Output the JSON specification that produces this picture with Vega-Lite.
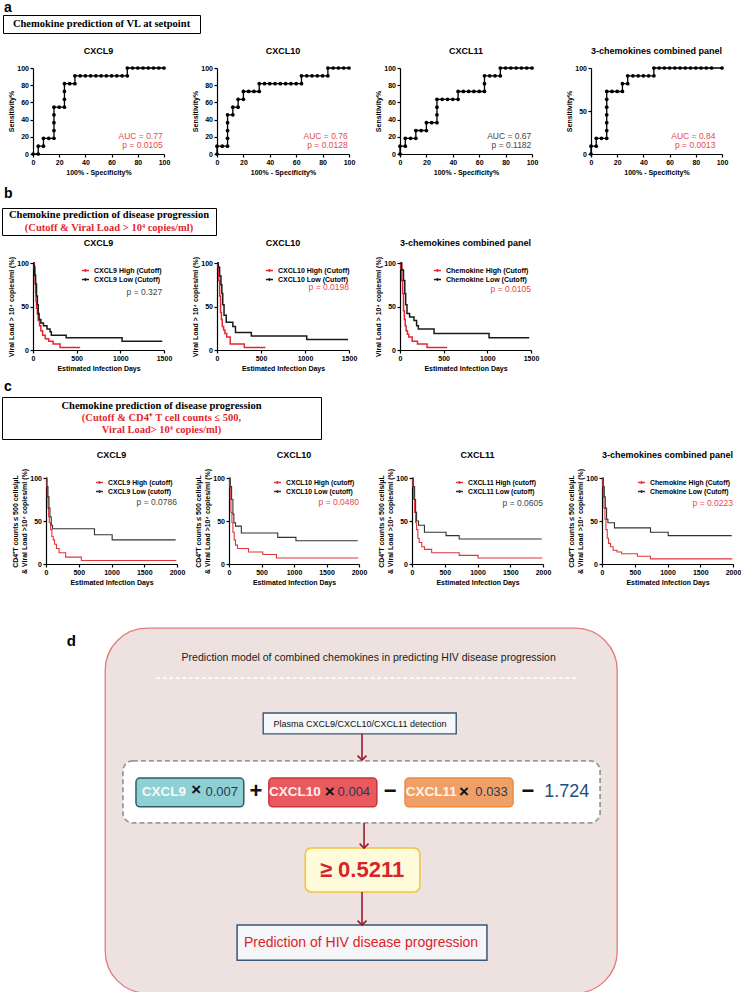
{
"$schema": "https://vega.github.io/schema/vega-lite/v6.json",
"padding": 0,
"background": "white",
"spacing": 0,
"bounds": "flush",
"resolve": {"scale": {"color": "independent"}, "legend": {"color": "independent"}},
"config": {
  "font": "Liberation Sans",
  "view": {"stroke": null},
  "axis": {"grid": false, "domainColor": "#000", "tickColor": "#000", "labelColor": "#000", "titleColor": "#000", "labelFontSize": 7, "labelFontWeight": "bold", "titleFontSize": 7, "titleFontWeight": "bold", "tickSize": 3, "labelPadding": 1.5, "titlePadding": 2.5, "domainWidth": 1.2, "tickWidth": 1.2, "labelFlush": false, "labelOverlap": false, "format": "d", "tickCount": 30},
  "title": {"fontSize": 9, "fontWeight": "bold", "offset": 8, "color": "#000"},
  "legend": {"labelFontSize": 7, "labelFontWeight": "bold", "labelColor": "#000", "symbolType": "M-1,0L1,0M0,-0.4L0,0.4", "symbolStrokeWidth": 1.4, "symbolSize": 50, "rowPadding": 0, "padding": 0, "labelOffset": 4}
},
"datasets": {
  "roc9": [{"x":0,"y":0},{"x":4,"y":0},{"x":4,"y":9.1},{"x":8,"y":9.1},{"x":8,"y":18.2},{"x":12,"y":18.2},{"x":16,"y":18.2},{"x":16,"y":27.3},{"x":16,"y":36.4},{"x":16,"y":45.5},{"x":16,"y":54.5},{"x":20,"y":54.5},{"x":24,"y":54.5},{"x":24,"y":63.6},{"x":24,"y":72.7},{"x":24,"y":81.8},{"x":28,"y":81.8},{"x":32,"y":81.8},{"x":32,"y":90.9},{"x":36,"y":90.9},{"x":40,"y":90.9},{"x":44,"y":90.9},{"x":48,"y":90.9},{"x":52,"y":90.9},{"x":56,"y":90.9},{"x":60,"y":90.9},{"x":64,"y":90.9},{"x":68,"y":90.9},{"x":72,"y":90.9},{"x":72,"y":100},{"x":76,"y":100},{"x":80,"y":100},{"x":84,"y":100},{"x":88,"y":100},{"x":92,"y":100},{"x":96,"y":100},{"x":100,"y":100}],
  "roc10": [{"x":0,"y":0},{"x":0,"y":9.1},{"x":4,"y":9.1},{"x":8,"y":9.1},{"x":8,"y":18.2},{"x":8,"y":27.3},{"x":8,"y":36.4},{"x":8,"y":45.5},{"x":12,"y":45.5},{"x":12,"y":54.5},{"x":16,"y":54.5},{"x":16,"y":63.6},{"x":20,"y":63.6},{"x":20,"y":72.7},{"x":24,"y":72.7},{"x":28,"y":72.7},{"x":32,"y":72.7},{"x":32,"y":81.8},{"x":36,"y":81.8},{"x":40,"y":81.8},{"x":44,"y":81.8},{"x":48,"y":81.8},{"x":52,"y":81.8},{"x":56,"y":81.8},{"x":60,"y":81.8},{"x":64,"y":81.8},{"x":64,"y":90.9},{"x":68,"y":90.9},{"x":72,"y":90.9},{"x":76,"y":90.9},{"x":80,"y":90.9},{"x":84,"y":90.9},{"x":84,"y":100},{"x":88,"y":100},{"x":92,"y":100},{"x":96,"y":100},{"x":100,"y":100}],
  "roc11": [{"x":0,"y":0},{"x":0,"y":9.1},{"x":4,"y":9.1},{"x":4,"y":18.2},{"x":8,"y":18.2},{"x":12,"y":18.2},{"x":12,"y":27.3},{"x":16,"y":27.3},{"x":20,"y":27.3},{"x":20,"y":36.4},{"x":24,"y":36.4},{"x":28,"y":36.4},{"x":28,"y":45.5},{"x":28,"y":54.5},{"x":28,"y":63.6},{"x":32,"y":63.6},{"x":36,"y":63.6},{"x":40,"y":63.6},{"x":44,"y":63.6},{"x":44,"y":72.7},{"x":48,"y":72.7},{"x":52,"y":72.7},{"x":56,"y":72.7},{"x":60,"y":72.7},{"x":64,"y":72.7},{"x":64,"y":81.8},{"x":64,"y":90.9},{"x":68,"y":90.9},{"x":72,"y":90.9},{"x":76,"y":90.9},{"x":76,"y":100},{"x":80,"y":100},{"x":84,"y":100},{"x":88,"y":100},{"x":92,"y":100},{"x":96,"y":100},{"x":100,"y":100}],
  "roc3": [{"x":0,"y":0},{"x":0,"y":9.1},{"x":4,"y":9.1},{"x":4,"y":18.2},{"x":8,"y":18.2},{"x":12,"y":18.2},{"x":12,"y":27.3},{"x":12,"y":36.4},{"x":12,"y":45.5},{"x":12,"y":54.5},{"x":12,"y":63.6},{"x":12,"y":72.7},{"x":16,"y":72.7},{"x":20,"y":72.7},{"x":24,"y":72.7},{"x":24,"y":81.8},{"x":28,"y":81.8},{"x":28,"y":90.9},{"x":32,"y":90.9},{"x":36,"y":90.9},{"x":40,"y":90.9},{"x":44,"y":90.9},{"x":48,"y":90.9},{"x":48,"y":100},{"x":52,"y":100},{"x":56,"y":100},{"x":60,"y":100},{"x":64,"y":100},{"x":68,"y":100},{"x":72,"y":100},{"x":76,"y":100},{"x":80,"y":100},{"x":84,"y":100},{"x":88,"y":100},{"x":92,"y":100},{"x":100,"y":100}],
  "b9": [{"d":0,"s":100,"g":"High"},{"d":15,"s":93,"g":"High"},{"d":20,"s":86,"g":"High"},{"d":25,"s":76,"g":"High"},{"d":30,"s":66,"g":"High"},{"d":35,"s":56,"g":"High"},{"d":40,"s":48,"g":"High"},{"d":50,"s":41,"g":"High"},{"d":60,"s":34,"g":"High"},{"d":75,"s":28,"g":"High"},{"d":90,"s":22,"g":"High"},{"d":110,"s":17,"g":"High"},{"d":140,"s":13,"g":"High"},{"d":180,"s":10,"g":"High"},{"d":230,"s":7,"g":"High"},{"d":310,"s":3,"g":"High"},{"d":540,"s":3,"g":"High"},
         {"d":0,"s":100,"g":"Low"},{"d":10,"s":96,"g":"Low"},{"d":20,"s":86,"g":"Low"},{"d":30,"s":76,"g":"Low"},{"d":40,"s":62,"g":"Low"},{"d":50,"s":52,"g":"Low"},{"d":60,"s":42,"g":"Low"},{"d":70,"s":35,"g":"Low"},{"d":90,"s":31,"g":"Low"},{"d":120,"s":28,"g":"Low"},{"d":160,"s":24,"g":"Low"},{"d":195,"s":21,"g":"Low"},{"d":210,"s":17,"g":"Low"},{"d":380,"s":14,"g":"Low"},{"d":1020,"s":10,"g":"Low"},{"d":1480,"s":10,"g":"Low"}],
  "b10": [{"d":0,"s":100,"g":"High"},{"d":10,"s":95,"g":"High"},{"d":20,"s":80,"g":"High"},{"d":30,"s":62,"g":"High"},{"d":40,"s":43,"g":"High"},{"d":50,"s":35,"g":"High"},{"d":60,"s":27,"g":"High"},{"d":75,"s":23,"g":"High"},{"d":90,"s":19,"g":"High"},{"d":110,"s":15,"g":"High"},{"d":150,"s":7,"g":"High"},{"d":310,"s":3,"g":"High"},{"d":550,"s":3,"g":"High"},
          {"d":0,"s":100,"g":"Low"},{"d":15,"s":95,"g":"Low"},{"d":30,"s":85,"g":"Low"},{"d":45,"s":75,"g":"Low"},{"d":55,"s":65,"g":"Low"},{"d":65,"s":52,"g":"Low"},{"d":80,"s":40,"g":"Low"},{"d":105,"s":32,"g":"Low"},{"d":180,"s":27,"g":"Low"},{"d":210,"s":20,"g":"Low"},{"d":390,"s":16,"g":"Low"},{"d":1020,"s":12,"g":"Low"},{"d":1490,"s":12,"g":"Low"}],
  "b3": [{"d":0,"s":100,"g":"High"},{"d":10,"s":93,"g":"High"},{"d":20,"s":80,"g":"High"},{"d":30,"s":65,"g":"High"},{"d":40,"s":45,"g":"High"},{"d":50,"s":35,"g":"High"},{"d":60,"s":28,"g":"High"},{"d":70,"s":22,"g":"High"},{"d":85,"s":18,"g":"High"},{"d":100,"s":15,"g":"High"},{"d":140,"s":10,"g":"High"},{"d":200,"s":7,"g":"High"},{"d":310,"s":3,"g":"High"},{"d":540,"s":3,"g":"High"},
         {"d":0,"s":100,"g":"Low"},{"d":20,"s":92,"g":"Low"},{"d":40,"s":80,"g":"Low"},{"d":55,"s":65,"g":"Low"},{"d":65,"s":52,"g":"Low"},{"d":80,"s":42,"g":"Low"},{"d":110,"s":38,"g":"Low"},{"d":160,"s":34,"g":"Low"},{"d":190,"s":28,"g":"Low"},{"d":210,"s":24,"g":"Low"},{"d":390,"s":19,"g":"Low"},{"d":1020,"s":14,"g":"Low"},{"d":1480,"s":14,"g":"Low"}],
  "c9": [{"d":0,"s":100,"g":"High"},{"d":10,"s":90,"g":"High"},{"d":20,"s":78,"g":"High"},{"d":30,"s":65,"g":"High"},{"d":40,"s":55,"g":"High"},{"d":50,"s":48,"g":"High"},{"d":70,"s":40,"g":"High"},{"d":90,"s":32,"g":"High"},{"d":110,"s":28,"g":"High"},{"d":130,"s":23,"g":"High"},{"d":160,"s":18,"g":"High"},{"d":200,"s":13,"g":"High"},{"d":300,"s":8,"g":"High"},{"d":540,"s":4,"g":"High"},{"d":1990,"s":4,"g":"High"},
         {"d":0,"s":100,"g":"Low"},{"d":15,"s":90,"g":"Low"},{"d":30,"s":78,"g":"Low"},{"d":45,"s":65,"g":"Low"},{"d":60,"s":55,"g":"Low"},{"d":80,"s":45,"g":"Low"},{"d":100,"s":41,"g":"Low"},{"d":740,"s":34,"g":"Low"},{"d":1010,"s":28,"g":"Low"},{"d":1980,"s":28,"g":"Low"}],
  "c10": [{"d":0,"s":100,"g":"High"},{"d":10,"s":90,"g":"High"},{"d":20,"s":75,"g":"High"},{"d":30,"s":60,"g":"High"},{"d":45,"s":48,"g":"High"},{"d":60,"s":37,"g":"High"},{"d":80,"s":28,"g":"High"},{"d":100,"s":22,"g":"High"},{"d":130,"s":18,"g":"High"},{"d":300,"s":14,"g":"High"},{"d":520,"s":11,"g":"High"},{"d":730,"s":7,"g":"High"},{"d":1990,"s":7,"g":"High"},
          {"d":0,"s":100,"g":"Low"},{"d":20,"s":90,"g":"Low"},{"d":40,"s":75,"g":"Low"},{"d":60,"s":58,"g":"Low"},{"d":75,"s":48,"g":"Low"},{"d":100,"s":44,"g":"Low"},{"d":190,"s":36,"g":"Low"},{"d":750,"s":31,"g":"Low"},{"d":1030,"s":27,"g":"Low"},{"d":1980,"s":27,"g":"Low"}],
  "c11": [{"d":0,"s":100,"g":"High"},{"d":10,"s":90,"g":"High"},{"d":25,"s":75,"g":"High"},{"d":40,"s":60,"g":"High"},{"d":55,"s":48,"g":"High"},{"d":70,"s":40,"g":"High"},{"d":90,"s":30,"g":"High"},{"d":110,"s":25,"g":"High"},{"d":150,"s":20,"g":"High"},{"d":190,"s":17,"g":"High"},{"d":300,"s":13,"g":"High"},{"d":720,"s":10,"g":"High"},{"d":1010,"s":7,"g":"High"},{"d":1990,"s":7,"g":"High"},
          {"d":0,"s":100,"g":"Low"},{"d":20,"s":90,"g":"Low"},{"d":40,"s":75,"g":"Low"},{"d":55,"s":60,"g":"Low"},{"d":70,"s":50,"g":"Low"},{"d":100,"s":45,"g":"Low"},{"d":190,"s":37,"g":"Low"},{"d":520,"s":33,"g":"Low"},{"d":720,"s":29,"g":"Low"},{"d":1980,"s":29,"g":"Low"}],
  "c3": [{"d":0,"s":100,"g":"High"},{"d":10,"s":90,"g":"High"},{"d":20,"s":78,"g":"High"},{"d":30,"s":65,"g":"High"},{"d":45,"s":52,"g":"High"},{"d":60,"s":40,"g":"High"},{"d":80,"s":30,"g":"High"},{"d":100,"s":24,"g":"High"},{"d":130,"s":20,"g":"High"},{"d":170,"s":16,"g":"High"},{"d":230,"s":14,"g":"High"},{"d":300,"s":12,"g":"High"},{"d":540,"s":9,"g":"High"},{"d":740,"s":6,"g":"High"},{"d":1990,"s":6,"g":"High"},
         {"d":0,"s":100,"g":"Low"},{"d":20,"s":90,"g":"Low"},{"d":35,"s":78,"g":"Low"},{"d":50,"s":65,"g":"Low"},{"d":70,"s":52,"g":"Low"},{"d":90,"s":48,"g":"Low"},{"d":190,"s":42,"g":"Low"},{"d":740,"s":37,"g":"Low"},{"d":1010,"s":33,"g":"Low"},{"d":1980,"s":33,"g":"Low"}]
},
"vconcat": [
  {"width": 1, "height": 13, "data": {"values": []}, "mark": "point"},
  {"hconcat": [
    {"width": 3, "height": 1, "data": {"values": []}, "mark": "point"},
    {"width": 197, "height": 18, "view": {"stroke": "#000", "strokeWidth": 1},
     "title": {"text": "a", "anchor": "start", "frame": "group", "fontSize": 14, "fontWeight": "bold", "offset": 0, "dx": 1},
     "data": {"values": [{"t": "Chemokine prediction of VL at setpoint"}]},
     "mark": {"type": "text", "font": "Liberation Serif", "fontWeight": "bold", "fontSize": 10.5, "color": "#000"},
     "encoding": {"text": {"field": "t"}}}
  ], "spacing": 0, "bounds": "flush"},
  {"width": 1, "height": 53, "data": {"values": []}, "mark": "point"},
  {"hconcat": [
    {"width": 33, "height": 1, "data": {"values": []}, "mark": "point"},
    {"width": 131, "height": 86, "title": "CXCL9",
     "layer": [
      {"data": {"name": "roc9"}, "mark": {"type": "line", "color": "#000", "strokeWidth": 1.3, "point": {"filled": true, "size": 14, "color": "#000"}},
       "encoding": {"x": {"field": "x", "type": "quantitative", "scale": {"domain": [0, 100], "nice": false}, "axis": {"values": [0, 20, 40, 60, 80, 100], "tickCount": 30, "labelOverlap": false, "title": "100% - Specificity%"}},
                    "y": {"field": "y", "type": "quantitative", "scale": {"domain": [0, 100], "nice": false}, "axis": {"values": [0, 20, 40, 60, 80, 100], "tickCount": 30, "labelOverlap": false, "title": "Sensitivity%"}},
                    "order": [{"field": "x"}, {"field": "y"}]}},
      {"data": {"values": [{}]}, "mark": {"type": "text", "text": ["AUC = 0.77", "p = 0.0105"], "align": "right", "baseline": "top", "fontSize": 8.5, "lineHeight": 9.5, "color": "#e8474e"},
       "encoding": {"x": {"datum": 99}, "y": {"datum": 26}}}
     ]},
    {"width": 53, "height": 1, "data": {"values": []}, "mark": "point"},
    {"width": 132, "height": 86, "title": "CXCL10",
     "layer": [
      {"data": {"name": "roc10"}, "mark": {"type": "line", "color": "#000", "strokeWidth": 1.3, "point": {"filled": true, "size": 14, "color": "#000"}},
       "encoding": {"x": {"field": "x", "type": "quantitative", "scale": {"domain": [0, 100], "nice": false}, "axis": {"values": [0, 20, 40, 60, 80, 100], "tickCount": 30, "labelOverlap": false, "title": "100% - Specificity%"}},
                    "y": {"field": "y", "type": "quantitative", "scale": {"domain": [0, 100], "nice": false}, "axis": {"values": [0, 20, 40, 60, 80, 100], "tickCount": 30, "labelOverlap": false, "title": "Sensitivity%"}},
                    "order": [{"field": "x"}, {"field": "y"}]}},
      {"data": {"values": [{}]}, "mark": {"type": "text", "text": ["AUC = 0.76", "p = 0.0128"], "align": "right", "baseline": "top", "fontSize": 8.5, "lineHeight": 9.5, "color": "#e8474e"},
       "encoding": {"x": {"datum": 99}, "y": {"datum": 26}}}
     ]},
    {"width": 51, "height": 1, "data": {"values": []}, "mark": "point"},
    {"width": 132, "height": 86, "title": "CXCL11",
     "layer": [
      {"data": {"name": "roc11"}, "mark": {"type": "line", "color": "#000", "strokeWidth": 1.3, "point": {"filled": true, "size": 14, "color": "#000"}},
       "encoding": {"x": {"field": "x", "type": "quantitative", "scale": {"domain": [0, 100], "nice": false}, "axis": {"values": [0, 20, 40, 60, 80, 100], "tickCount": 30, "labelOverlap": false, "title": "100% - Specificity%"}},
                    "y": {"field": "y", "type": "quantitative", "scale": {"domain": [0, 100], "nice": false}, "axis": {"values": [0, 20, 40, 60, 80, 100], "tickCount": 30, "labelOverlap": false, "title": "Sensitivity%"}},
                    "order": [{"field": "x"}, {"field": "y"}]}},
      {"data": {"values": [{}]}, "mark": {"type": "text", "text": ["AUC = 0.67", "p = 0.1182"], "align": "right", "baseline": "top", "fontSize": 8.5, "lineHeight": 9.5, "color": "#444"},
       "encoding": {"x": {"datum": 99.5}, "y": {"datum": 26}}}
     ]},
    {"width": 59, "height": 1, "data": {"values": []}, "mark": "point"},
    {"width": 131, "height": 86, "title": "3-chemokines combined panel",
     "layer": [
      {"data": {"name": "roc3"}, "mark": {"type": "line", "color": "#000", "strokeWidth": 1.3, "point": {"filled": true, "size": 14, "color": "#000"}},
       "encoding": {"x": {"field": "x", "type": "quantitative", "scale": {"domain": [0, 100], "nice": false}, "axis": {"values": [0, 20, 40, 60, 80, 100], "tickCount": 30, "labelOverlap": false, "title": "100% - Specificity%"}},
                    "y": {"field": "y", "type": "quantitative", "scale": {"domain": [0, 100], "nice": false}, "axis": {"values": [0, 50, 100], "tickCount": 30, "labelOverlap": false, "title": "Sensitivity%"}},
                    "order": [{"field": "x"}, {"field": "y"}]}},
      {"data": {"values": [{}]}, "mark": {"type": "text", "text": ["AUC = 0.84", "p = 0.0013"], "align": "right", "baseline": "top", "fontSize": 8.5, "lineHeight": 9.5, "color": "#e8474e"},
       "encoding": {"x": {"datum": 95}, "y": {"datum": 26}}}
     ]}
  ], "spacing": 0, "bounds": "flush"},
  {"width": 1, "height": 140, "data": {"values": []}, "mark": "point"},
  {"hconcat": [
    {"width": 2, "height": 1, "data": {"values": []}, "mark": "point"},
    {"width": 214, "height": 27, "view": {"stroke": "#000", "strokeWidth": 1},
     "title": {"text": "b", "anchor": "start", "frame": "group", "fontSize": 14, "fontWeight": "bold", "offset": 7, "dx": 2},
     "data": {"values": [{"line": 1, "t": "Chemokine prediction of disease progression"}, {"line": 2, "t": "(Cutoff & Viral Load > 10⁴ copies/ml)"}]},
     "mark": {"type": "text", "font": "Liberation Serif", "fontWeight": "bold", "fontSize": 10.5},
     "encoding": {"text": {"field": "t"},
                  "y": {"field": "line", "type": "ordinal", "axis": null, "scale": {"type": "point", "padding": 0.5}},
                  "color": {"field": "line", "type": "nominal", "scale": {"domain": [1, 2, 3], "range": ["#000", "#e4262c", "#e4262c"]}, "legend": null}}}
  ], "spacing": 0, "bounds": "flush", "resolve": {"scale": {"color": "independent"}, "legend": {"color": "independent"}}},
  {"width": 1, "height": 55, "data": {"values": []}, "mark": "point"},
  {"hconcat": [
    {"width": 33, "height": 1, "data": {"values": []}, "mark": "point"},
    {"width": 131, "height": 87, "title": "CXCL9",
     "layer": [
      {"data": {"name": "b9"}, "mark": {"type": "line", "interpolate": "step-after", "strokeWidth": 1.5},
       "encoding": {"x": {"field": "d", "type": "quantitative", "scale": {"domain": [0, 1500], "nice": false}, "axis": {"values": [0, 500, 1000, 1500], "tickCount": 30, "labelOverlap": false, "title": "Estimated Infection Days"}},
                    "y": {"field": "s", "type": "quantitative", "scale": {"domain": [0, 100], "nice": false}, "axis": {"values": [0, 50, 100], "tickCount": 30, "labelOverlap": false, "title": "Viral Load > 10⁴ copies/ml (%)"}},
                    "color": {"field": "g", "type": "nominal", "scale": {"domain": ["High", "Low"], "range": ["#e8262f", "#1a1a1a"]}, "legend": {"title": null, "orient": "none", "legendX": 48, "legendY": 3, "labelExpr": "'CXCL9 ' + datum.label + ' (Cutoff)'"}}}},
      {"data": {"values": [{}]}, "mark": {"type": "text", "text": "p = 0.327", "align": "right", "fontSize": 8.5, "color": "#444"},
       "encoding": {"x": {"datum": 1480}, "y": {"datum": 67}}}
     ]},
    {"width": 53, "height": 1, "data": {"values": []}, "mark": "point"},
    {"width": 132, "height": 87, "title": "CXCL10",
     "layer": [
      {"data": {"name": "b10"}, "mark": {"type": "line", "interpolate": "step-after", "strokeWidth": 1.5},
       "encoding": {"x": {"field": "d", "type": "quantitative", "scale": {"domain": [0, 1500], "nice": false}, "axis": {"values": [0, 500, 1000, 1500], "tickCount": 30, "labelOverlap": false, "title": "Estimated Infection Days"}},
                    "y": {"field": "s", "type": "quantitative", "scale": {"domain": [0, 100], "nice": false}, "axis": {"values": [0, 50, 100], "tickCount": 30, "labelOverlap": false, "title": "Viral Load > 10⁴ copies/ml (%)"}},
                    "color": {"field": "g", "type": "nominal", "scale": {"domain": ["High", "Low"], "range": ["#e8262f", "#1a1a1a"]}, "legend": {"title": null, "orient": "none", "legendX": 48, "legendY": 3, "labelExpr": "'CXCL10 ' + datum.label + ' (Cutoff)'"}}}},
      {"data": {"values": [{}]}, "mark": {"type": "text", "text": "p = 0.0198", "align": "right", "fontSize": 8.5, "color": "#e8474e"},
       "encoding": {"x": {"datum": 1500}, "y": {"datum": 72}}}
     ]},
    {"width": 51, "height": 1, "data": {"values": []}, "mark": "point"},
    {"width": 131, "height": 87, "title": "3-chemokines combined panel",
     "layer": [
      {"data": {"name": "b3"}, "mark": {"type": "line", "interpolate": "step-after", "strokeWidth": 1.5},
       "encoding": {"x": {"field": "d", "type": "quantitative", "scale": {"domain": [0, 1500], "nice": false}, "axis": {"values": [0, 500, 1000, 1500], "tickCount": 30, "labelOverlap": false, "title": "Estimated Infection Days"}},
                    "y": {"field": "s", "type": "quantitative", "scale": {"domain": [0, 100], "nice": false}, "axis": {"values": [0, 50, 100], "tickCount": 30, "labelOverlap": false, "title": "Viral Load > 10⁴ copies/ml (%)"}},
                    "color": {"field": "g", "type": "nominal", "scale": {"domain": ["High", "Low"], "range": ["#e8262f", "#1a1a1a"]}, "legend": {"title": null, "orient": "none", "legendX": 33, "legendY": 3, "labelExpr": "'Chemokine ' + datum.label + ' (Cutoff)'"}}}},
      {"data": {"values": [{}]}, "mark": {"type": "text", "text": "p = 0.0105", "align": "right", "fontSize": 8.5, "color": "#e8474e"},
       "encoding": {"x": {"datum": 1500}, "y": {"datum": 70}}}
     ]}
  ], "spacing": 0, "bounds": "flush", "resolve": {"scale": {"color": "independent"}, "legend": {"color": "independent"}}},
  {"width": 1, "height": 134, "data": {"values": []}, "mark": "point"},
  {"hconcat": [
    {"width": 2, "height": 1, "data": {"values": []}, "mark": "point"},
    {"width": 319, "height": 42, "view": {"stroke": "#000", "strokeWidth": 1},
     "title": {"text": "c", "anchor": "start", "frame": "group", "fontSize": 14, "fontWeight": "bold", "offset": 3, "dx": 2},
     "data": {"values": [{"line": 1, "t": "Chemokine prediction of disease progression"}, {"line": 2, "t": "(Cutoff & CD4⁺ T cell counts ≤ 500,"}, {"line": 3, "t": "Viral Load> 10⁴ copies/ml)"}]},
     "mark": {"type": "text", "font": "Liberation Serif", "fontWeight": "bold", "fontSize": 10.5},
     "encoding": {"text": {"field": "t"},
                  "y": {"field": "line", "type": "ordinal", "axis": null, "scale": {"type": "point", "padding": 0.75}},
                  "color": {"field": "line", "type": "nominal", "scale": {"domain": [1, 2, 3], "range": ["#000", "#e4262c", "#e4262c"]}, "legend": null}}}
  ], "spacing": 0, "bounds": "flush", "resolve": {"scale": {"color": "independent"}, "legend": {"color": "independent"}}},
  {"width": 1, "height": 81, "data": {"values": []}, "mark": "point"},
  {"hconcat": [
    {"width": 46, "height": 1, "data": {"values": []}, "mark": "point"},
    {"width": 131, "height": 86, "title": "CXCL9",
     "layer": [
      {"data": {"name": "c9"}, "mark": {"type": "line", "interpolate": "step-after", "strokeWidth": 1.1},
       "encoding": {"x": {"field": "d", "type": "quantitative", "scale": {"domain": [0, 2000], "nice": false}, "axis": {"values": [0, 500, 1000, 1500, 2000], "tickCount": 30, "labelOverlap": false, "title": "Estimated Infection Days"}},
                    "y": {"field": "s", "type": "quantitative", "scale": {"domain": [0, 100], "nice": false}, "axis": {"values": [0, 50, 100], "tickCount": 30, "labelOverlap": false, "title": ["CD4⁺T counts ≤ 500 cells/μL", "& Viral Load >10⁴ copies/ml (%)"]}},
                    "color": {"field": "g", "type": "nominal", "scale": {"domain": ["High", "Low"], "range": ["#e0353d", "#333"]}, "legend": {"title": null, "orient": "none", "legendX": 49, "legendY": 0, "labelFontSize": 6.8, "labelExpr": "'CXCL9 ' + datum.label + ' (cutoff)'"}}}},
      {"data": {"values": [{}]}, "mark": {"type": "text", "text": "p = 0.0786", "align": "right", "fontSize": 8.5, "color": "#444"},
       "encoding": {"x": {"datum": 2000}, "y": {"datum": 72}}}
     ]},
    {"width": 52, "height": 1, "data": {"values": []}, "mark": "point"},
    {"width": 130, "height": 86, "title": "CXCL10",
     "layer": [
      {"data": {"name": "c10"}, "mark": {"type": "line", "interpolate": "step-after", "strokeWidth": 1.1},
       "encoding": {"x": {"field": "d", "type": "quantitative", "scale": {"domain": [0, 2000], "nice": false}, "axis": {"values": [0, 500, 1000, 1500, 2000], "tickCount": 30, "labelOverlap": false, "title": "Estimated Infection Days"}},
                    "y": {"field": "s", "type": "quantitative", "scale": {"domain": [0, 100], "nice": false}, "axis": {"values": [0, 50, 100], "tickCount": 30, "labelOverlap": false, "title": ["CD4⁺T counts ≤ 500 cells/μL", "& Viral Load >10⁴ copies/ml (%)"]}},
                    "color": {"field": "g", "type": "nominal", "scale": {"domain": ["High", "Low"], "range": ["#e0353d", "#333"]}, "legend": {"title": null, "orient": "none", "legendX": 44, "legendY": 0, "labelFontSize": 6.8, "labelExpr": "'CXCL10 ' + datum.label + ' (cutoff)'"}}}},
      {"data": {"values": [{}]}, "mark": {"type": "text", "text": "p = 0.0480", "align": "right", "fontSize": 8.5, "color": "#e8474e"},
       "encoding": {"x": {"datum": 2000}, "y": {"datum": 72}}}
     ]},
    {"width": 53, "height": 1, "data": {"values": []}, "mark": "point"},
    {"width": 131, "height": 86, "title": "CXCL11",
     "layer": [
      {"data": {"name": "c11"}, "mark": {"type": "line", "interpolate": "step-after", "strokeWidth": 1.1},
       "encoding": {"x": {"field": "d", "type": "quantitative", "scale": {"domain": [0, 2000], "nice": false}, "axis": {"values": [0, 500, 1000, 1500, 2000], "tickCount": 30, "labelOverlap": false, "title": "Estimated Infection Days"}},
                    "y": {"field": "s", "type": "quantitative", "scale": {"domain": [0, 100], "nice": false}, "axis": {"values": [0, 50, 100], "tickCount": 30, "labelOverlap": false, "title": ["CD4⁺T counts ≤ 500 cells/μL", "& Viral Load >10⁴ copies/ml (%)"]}},
                    "color": {"field": "g", "type": "nominal", "scale": {"domain": ["High", "Low"], "range": ["#e0353d", "#333"]}, "legend": {"title": null, "orient": "none", "legendX": 43, "legendY": 0, "labelFontSize": 6.8, "labelExpr": "'CXCL11 ' + datum.label + ' (cutoff)'"}}}},
      {"data": {"values": [{}]}, "mark": {"type": "text", "text": "p = 0.0605", "align": "right", "fontSize": 8.5, "color": "#444"},
       "encoding": {"x": {"datum": 2000}, "y": {"datum": 71}}}
     ]},
    {"width": 59, "height": 1, "data": {"values": []}, "mark": "point"},
    {"width": 131, "height": 86, "title": "3-chemokines combined panel",
     "layer": [
      {"data": {"name": "c3"}, "mark": {"type": "line", "interpolate": "step-after", "strokeWidth": 1.1},
       "encoding": {"x": {"field": "d", "type": "quantitative", "scale": {"domain": [0, 2000], "nice": false}, "axis": {"values": [0, 500, 1000, 1500, 2000], "tickCount": 30, "labelOverlap": false, "title": "Estimated Infection Days"}},
                    "y": {"field": "s", "type": "quantitative", "scale": {"domain": [0, 100], "nice": false}, "axis": {"values": [0, 50, 100], "tickCount": 30, "labelOverlap": false, "title": ["CD4⁺T counts ≤ 500 cells/μL", "& Viral Load >10⁴ copies/ml (%)"]}},
                    "color": {"field": "g", "type": "nominal", "scale": {"domain": ["High", "Low"], "range": ["#e0353d", "#333"]}, "legend": {"title": null, "orient": "none", "legendX": 35, "legendY": 0, "labelFontSize": 6.8, "labelExpr": "'Chemokine ' + datum.label + ' (Cutoff)'"}}}},
      {"data": {"values": [{}]}, "mark": {"type": "text", "text": "p = 0.0223", "align": "right", "fontSize": 8.5, "color": "#e8474e"},
       "encoding": {"x": {"datum": 2000}, "y": {"datum": 71}}}
     ]}
  ], "spacing": 0, "bounds": "flush", "resolve": {"scale": {"color": "independent"}, "legend": {"color": "independent"}}},
  {"width": 1, "height": 150, "data": {"values": []}, "mark": "point"},
  {"hconcat": [
    {"width": 105, "height": 1, "data": {"values": []}, "mark": "point"},
    {"width": 512, "height": 365,
     "view": {"fill": "#ede2e0", "stroke": "#e27b7b", "strokeWidth": 1.3, "cornerRadius": 42},
     "data": {"values": [{}]},
     "layer": [
      {"mark": {"type": "text", "text": "d", "fontSize": 15, "fontWeight": "bold", "font": "Liberation Sans", "color": "#000"},
       "encoding": {"x": {"datum": -6.6, "type": "quantitative", "scale": {"domain": [0, 100], "nice": false, "zero": false}, "axis": null}, "y": {"datum": 3.6, "type": "quantitative", "scale": {"domain": [0, 100], "nice": false, "zero": false, "reverse": true}, "axis": null}}},
      {"mark": {"type": "text", "text": "Prediction model of combined chemokines in predicting HIV disease progression", "fontSize": 10.5, "font": "Liberation Sans Narrow, Liberation Sans", "color": "#1a1a1a"},
       "encoding": {"x": {"datum": 51.5, "type": "quantitative", "scale": {"domain": [0, 100], "nice": false, "zero": false}, "axis": null}, "y": {"datum": 8.2, "type": "quantitative", "scale": {"domain": [0, 100], "nice": false, "zero": false, "reverse": true}, "axis": null}}},
      {"mark": {"type": "rule", "color": "#ffffff", "strokeWidth": 1.6, "strokeDash": [4, 2.5]},
       "encoding": {"x": {"datum": 10, "type": "quantitative", "scale": {"domain": [0, 100], "nice": false, "zero": false}, "axis": null}, "x2": {"datum": 92.2}, "y": {"datum": 13.7, "type": "quantitative", "scale": {"domain": [0, 100], "nice": false, "zero": false, "reverse": true}, "axis": null}}},
      {"mark": {"type": "rect", "fill": "#f4f6f8", "stroke": "#3a5777", "strokeWidth": 1.4},
       "encoding": {"x": {"datum": 30.9, "type": "quantitative", "scale": {"domain": [0, 100], "nice": false, "zero": false}, "axis": null}, "x2": {"datum": 68.6}, "y": {"datum": 23.3, "type": "quantitative", "scale": {"domain": [0, 100], "nice": false, "zero": false, "reverse": true}, "axis": null}, "y2": {"datum": 29.0}}},
      {"mark": {"type": "text", "text": "Plasma CXCL9/CXCL10/CXCL11 detection", "fontSize": 9, "font": "Liberation Sans Narrow, Liberation Sans", "color": "#111"},
       "encoding": {"x": {"datum": 49.8, "type": "quantitative", "scale": {"domain": [0, 100], "nice": false, "zero": false}, "axis": null}, "y": {"datum": 26.2, "type": "quantitative", "scale": {"domain": [0, 100], "nice": false, "zero": false, "reverse": true}, "axis": null}}},
      {"mark": {"type": "rect", "fill": "#ffffff", "stroke": "#9a9a9a", "strokeWidth": 1.8, "strokeDash": [5, 3], "cornerRadius": 10},
       "encoding": {"x": {"datum": 3.5, "type": "quantitative", "scale": {"domain": [0, 100], "nice": false, "zero": false}, "axis": null}, "x2": {"datum": 96.7}, "y": {"datum": 36.4, "type": "quantitative", "scale": {"domain": [0, 100], "nice": false, "zero": false, "reverse": true}, "axis": null}, "y2": {"datum": 53.4}}},
      {"mark": {"type": "rect", "fill": "#8fd0d2", "stroke": "#2e5b6b", "strokeWidth": 1.5, "cornerRadius": 4},
       "encoding": {"x": {"datum": 6.05, "type": "quantitative", "scale": {"domain": [0, 100], "nice": false, "zero": false}, "axis": null}, "x2": {"datum": 27.1}, "y": {"datum": 41.1, "type": "quantitative", "scale": {"domain": [0, 100], "nice": false, "zero": false, "reverse": true}, "axis": null}, "y2": {"datum": 49.0}}},
      {"mark": {"type": "rect", "fill": "#e85a5e", "stroke": "#c8343a", "strokeWidth": 1.5, "cornerRadius": 4},
       "encoding": {"x": {"datum": 32.0, "type": "quantitative", "scale": {"domain": [0, 100], "nice": false, "zero": false}, "axis": null}, "x2": {"datum": 53.1}, "y": {"datum": 41.1, "type": "quantitative", "scale": {"domain": [0, 100], "nice": false, "zero": false, "reverse": true}, "axis": null}, "y2": {"datum": 49.0}}},
      {"mark": {"type": "rect", "fill": "#f0a066", "stroke": "#e98a45", "strokeWidth": 1.5, "cornerRadius": 4},
       "encoding": {"x": {"datum": 58.6, "type": "quantitative", "scale": {"domain": [0, 100], "nice": false, "zero": false}, "axis": null}, "x2": {"datum": 79.7}, "y": {"datum": 41.1, "type": "quantitative", "scale": {"domain": [0, 100], "nice": false, "zero": false, "reverse": true}, "axis": null}, "y2": {"datum": 49.0}}},
      {"mark": {"type": "rect", "fill": "#fdfbda", "stroke": "#f2c43a", "strokeWidth": 1.5, "cornerRadius": 6},
       "encoding": {"x": {"datum": 39.1, "type": "quantitative", "scale": {"domain": [0, 100], "nice": false, "zero": false}, "axis": null}, "x2": {"datum": 61.5}, "y": {"datum": 60.3, "type": "quantitative", "scale": {"domain": [0, 100], "nice": false, "zero": false, "reverse": true}, "axis": null}, "y2": {"datum": 72.3}}},
      {"mark": {"type": "rect", "fill": "#f4f6f8", "stroke": "#3a5777", "strokeWidth": 1.5},
       "encoding": {"x": {"datum": 25.8, "type": "quantitative", "scale": {"domain": [0, 100], "nice": false, "zero": false}, "axis": null}, "x2": {"datum": 74.6}, "y": {"datum": 81.4, "type": "quantitative", "scale": {"domain": [0, 100], "nice": false, "zero": false, "reverse": true}, "axis": null}, "y2": {"datum": 91.0}}},
      {"mark": {"type": "rule", "color": "#9b1b30", "strokeWidth": 1.6},
       "encoding": {"x": {"datum": 50.2, "type": "quantitative", "scale": {"domain": [0, 100], "nice": false, "zero": false}, "axis": null}, "y": {"datum": 29.0, "type": "quantitative", "scale": {"domain": [0, 100], "nice": false, "zero": false, "reverse": true}, "axis": null}, "y2": {"datum": 36.0}}},
      {"mark": {"type": "rule", "color": "#9b1b30", "strokeWidth": 1.6},
       "encoding": {"x": {"datum": 50.6, "type": "quantitative", "scale": {"domain": [0, 100], "nice": false, "zero": false}, "axis": null}, "y": {"datum": 53.4, "type": "quantitative", "scale": {"domain": [0, 100], "nice": false, "zero": false, "reverse": true}, "axis": null}, "y2": {"datum": 60.1}}},
      {"mark": {"type": "rule", "color": "#9b1b30", "strokeWidth": 1.6},
       "encoding": {"x": {"datum": 50.2, "type": "quantitative", "scale": {"domain": [0, 100], "nice": false, "zero": false}, "axis": null}, "y": {"datum": 72.3, "type": "quantitative", "scale": {"domain": [0, 100], "nice": false, "zero": false, "reverse": true}, "axis": null}, "y2": {"datum": 81.2}}},
      {"mark": {"type": "point", "shape": "M-1,-1L0,0L1,-1", "filled": false, "color": "#9b1b30", "strokeWidth": 1.6, "size": 80, "opacity": 1},
       "encoding": {"x": {"datum": 50.2, "type": "quantitative", "scale": {"domain": [0, 100], "nice": false, "zero": false}, "axis": null}, "y": {"datum": 36.2, "type": "quantitative", "scale": {"domain": [0, 100], "nice": false, "zero": false, "reverse": true}, "axis": null}}},
      {"mark": {"type": "point", "shape": "M-1,-1L0,0L1,-1", "filled": false, "color": "#9b1b30", "strokeWidth": 1.6, "size": 80, "opacity": 1},
       "encoding": {"x": {"datum": 50.6, "type": "quantitative", "scale": {"domain": [0, 100], "nice": false, "zero": false}, "axis": null}, "y": {"datum": 60.3, "type": "quantitative", "scale": {"domain": [0, 100], "nice": false, "zero": false, "reverse": true}, "axis": null}}},
      {"mark": {"type": "point", "shape": "M-1,-1L0,0L1,-1", "filled": false, "color": "#9b1b30", "strokeWidth": 1.6, "size": 80, "opacity": 1},
       "encoding": {"x": {"datum": 50.2, "type": "quantitative", "scale": {"domain": [0, 100], "nice": false, "zero": false}, "axis": null}, "y": {"datum": 81.4, "type": "quantitative", "scale": {"domain": [0, 100], "nice": false, "zero": false, "reverse": true}, "axis": null}}},
      {"mark": {"type": "text", "text": "CXCL9", "fontSize": 13.5, "fontWeight": "bold", "font": "Liberation Sans Narrow, Liberation Sans", "color": "#f2fafa"},
       "encoding": {"x": {"datum": 11.5, "type": "quantitative", "scale": {"domain": [0, 100], "nice": false, "zero": false}, "axis": null}, "y": {"datum": 45.0, "type": "quantitative", "scale": {"domain": [0, 100], "nice": false, "zero": false, "reverse": true}, "axis": null}}},
      {"mark": {"type": "text", "text": "×", "fontSize": 17, "fontWeight": "bold", "font": "Liberation Sans", "color": "#111"},
       "encoding": {"x": {"datum": 17.8, "type": "quantitative", "scale": {"domain": [0, 100], "nice": false, "zero": false}, "axis": null}, "y": {"datum": 44.4, "type": "quantitative", "scale": {"domain": [0, 100], "nice": false, "zero": false, "reverse": true}, "axis": null}}},
      {"mark": {"type": "text", "text": "0.007", "fontSize": 13, "font": "Liberation Sans Narrow, Liberation Sans", "color": "#1f3c5a"},
       "encoding": {"x": {"datum": 22.8, "type": "quantitative", "scale": {"domain": [0, 100], "nice": false, "zero": false}, "axis": null}, "y": {"datum": 45.0, "type": "quantitative", "scale": {"domain": [0, 100], "nice": false, "zero": false, "reverse": true}, "axis": null}}},
      {"mark": {"type": "text", "text": "+", "fontSize": 22, "fontWeight": "bold", "font": "Liberation Sans", "color": "#111"},
       "encoding": {"x": {"datum": 29.5, "type": "quantitative", "scale": {"domain": [0, 100], "nice": false, "zero": false}, "axis": null}, "y": {"datum": 44.6, "type": "quantitative", "scale": {"domain": [0, 100], "nice": false, "zero": false, "reverse": true}, "axis": null}}},
      {"mark": {"type": "text", "text": "CXCL10", "fontSize": 13.5, "fontWeight": "bold", "font": "Liberation Sans Narrow, Liberation Sans", "color": "#fbeeee"},
       "encoding": {"x": {"datum": 37.1, "type": "quantitative", "scale": {"domain": [0, 100], "nice": false, "zero": false}, "axis": null}, "y": {"datum": 45.0, "type": "quantitative", "scale": {"domain": [0, 100], "nice": false, "zero": false, "reverse": true}, "axis": null}}},
      {"mark": {"type": "text", "text": "×", "fontSize": 17, "fontWeight": "bold", "font": "Liberation Sans", "color": "#111"},
       "encoding": {"x": {"datum": 43.9, "type": "quantitative", "scale": {"domain": [0, 100], "nice": false, "zero": false}, "axis": null}, "y": {"datum": 44.8, "type": "quantitative", "scale": {"domain": [0, 100], "nice": false, "zero": false, "reverse": true}, "axis": null}}},
      {"mark": {"type": "text", "text": "0.004", "fontSize": 13, "font": "Liberation Sans Narrow, Liberation Sans", "color": "#1f3c5a"},
       "encoding": {"x": {"datum": 48.6, "type": "quantitative", "scale": {"domain": [0, 100], "nice": false, "zero": false}, "axis": null}, "y": {"datum": 45.0, "type": "quantitative", "scale": {"domain": [0, 100], "nice": false, "zero": false, "reverse": true}, "axis": null}}},
      {"mark": {"type": "text", "text": "−", "fontSize": 22, "fontWeight": "bold", "font": "Liberation Sans", "color": "#111"},
       "encoding": {"x": {"datum": 55.7, "type": "quantitative", "scale": {"domain": [0, 100], "nice": false, "zero": false}, "axis": null}, "y": {"datum": 44.6, "type": "quantitative", "scale": {"domain": [0, 100], "nice": false, "zero": false, "reverse": true}, "axis": null}}},
      {"mark": {"type": "text", "text": "CXCL11", "fontSize": 13.5, "fontWeight": "bold", "font": "Liberation Sans Narrow, Liberation Sans", "color": "#fdf3ea"},
       "encoding": {"x": {"datum": 63.7, "type": "quantitative", "scale": {"domain": [0, 100], "nice": false, "zero": false}, "axis": null}, "y": {"datum": 45.0, "type": "quantitative", "scale": {"domain": [0, 100], "nice": false, "zero": false, "reverse": true}, "axis": null}}},
      {"mark": {"type": "text", "text": "×", "fontSize": 17, "fontWeight": "bold", "font": "Liberation Sans", "color": "#111"},
       "encoding": {"x": {"datum": 70.1, "type": "quantitative", "scale": {"domain": [0, 100], "nice": false, "zero": false}, "axis": null}, "y": {"datum": 44.8, "type": "quantitative", "scale": {"domain": [0, 100], "nice": false, "zero": false, "reverse": true}, "axis": null}}},
      {"mark": {"type": "text", "text": "0.033", "fontSize": 13, "font": "Liberation Sans Narrow, Liberation Sans", "color": "#1f3c5a"},
       "encoding": {"x": {"datum": 75.5, "type": "quantitative", "scale": {"domain": [0, 100], "nice": false, "zero": false}, "axis": null}, "y": {"datum": 45.0, "type": "quantitative", "scale": {"domain": [0, 100], "nice": false, "zero": false, "reverse": true}, "axis": null}}},
      {"mark": {"type": "text", "text": "−", "fontSize": 22, "fontWeight": "bold", "font": "Liberation Sans", "color": "#111"},
       "encoding": {"x": {"datum": 82.6, "type": "quantitative", "scale": {"domain": [0, 100], "nice": false, "zero": false}, "axis": null}, "y": {"datum": 44.6, "type": "quantitative", "scale": {"domain": [0, 100], "nice": false, "zero": false, "reverse": true}, "axis": null}}},
      {"mark": {"type": "text", "text": "1.724", "fontSize": 18, "font": "Liberation Sans Narrow, Liberation Sans", "color": "#1f4e79"},
       "encoding": {"x": {"datum": 90.2, "type": "quantitative", "scale": {"domain": [0, 100], "nice": false, "zero": false}, "axis": null}, "y": {"datum": 45.0, "type": "quantitative", "scale": {"domain": [0, 100], "nice": false, "zero": false, "reverse": true}, "axis": null}}},
      {"mark": {"type": "text", "text": "≥ 0.5211", "fontSize": 22, "fontWeight": "bold", "font": "Liberation Sans Narrow, Liberation Sans", "color": "#d9232b"},
       "encoding": {"x": {"datum": 50.2, "type": "quantitative", "scale": {"domain": [0, 100], "nice": false, "zero": false}, "axis": null}, "y": {"datum": 66.3, "type": "quantitative", "scale": {"domain": [0, 100], "nice": false, "zero": false, "reverse": true}, "axis": null}}},
      {"mark": {"type": "text", "text": "Prediction of HIV disease progression", "fontSize": 14, "font": "Liberation Sans Narrow, Liberation Sans", "color": "#e0202a"},
       "encoding": {"x": {"datum": 50.0, "type": "quantitative", "scale": {"domain": [0, 100], "nice": false, "zero": false}, "axis": null}, "y": {"datum": 86.2, "type": "quantitative", "scale": {"domain": [0, 100], "nice": false, "zero": false, "reverse": true}, "axis": null}}}
     ]}
  ], "spacing": 0, "bounds": "flush"}
]
}
